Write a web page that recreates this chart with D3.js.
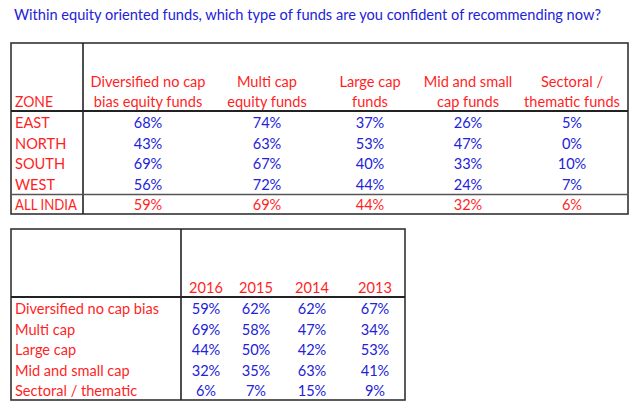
<!DOCTYPE html>
<html><head><meta charset="utf-8">
<script src="https://cdn.jsdelivr.net/npm/d3@7"></script>
<style>html,body{margin:0;padding:0;background:#fff;} svg{display:block;}</style>
</head><body>
<svg id="chart" width="640" height="410"></svg>
<script>
const title = "Within equity oriented funds, which type of funds are you confident of recommending now?";
const zoneHeader = "ZONE";
const zones = ["EAST", "NORTH", "SOUTH", "WEST", "ALL INDIA"];
const fundTypes = [
  ["Diversified no cap", "bias equity funds"],
  ["Multi cap", "equity funds"],
  ["Large cap", "funds"],
  ["Mid and small", "cap funds"],
  ["Sectoral /", "thematic funds"]
];
const diversifiedByZone = [68, 43, 69, 56, 59];
const multiCapByZone = [74, 63, 67, 72, 69];
const largeCapByZone = [37, 53, 40, 44, 44];
const midSmallByZone = [26, 47, 33, 24, 32];
const sectoralByZone = [5, 0, 10, 7, 6];

const categories = ["Diversified no cap bias", "Multi cap", "Large cap", "Mid and small cap", "Sectoral / thematic"];
const years = ["2016", "2015", "2014", "2013"];
const values2016 = [59, 69, 44, 32, 6];
const values2015 = [62, 58, 50, 35, 7];
const values2014 = [62, 47, 42, 63, 15];
const values2013 = [67, 34, 53, 41, 9];

const RED = "#ff1f1f", BLUE = "#2222d8", LINE = "#222";
const FONT = "Lato, 'Open Sans', sans-serif";
const FS = 14.6;
const LABEL_X = 15;

const svg = d3.select("#chart");
const fmt = v => v + "%";

function fit(sel, maxW) {
  sel.each(function () {
    const w = this.getComputedTextLength();
    if (w > maxW) d3.select(this).attr("textLength", maxW).attr("lengthAdjust", "spacingAndGlyphs");
  });
}

const tt = svg.append("text").attr("x", 14).attr("y", 15).attr("dy", "0.35em")
  .attr("fill", BLUE).attr("font-family", FONT).attr("font-size", FS).text(title);
fit(tt, 588);

// ---------- Table 1 ----------
const t1 = {x0: 11, x1: 628, y0: 43, yHead: 111, ySep: 194.5, y1: 214, xDiv: 83};
const zoneSeries = [diversifiedByZone, multiCapByZone, largeCapByZone, midSmallByZone, sectoralByZone];
const colCenters1 = d3.scaleOrdinal().domain(d3.range(fundTypes.length)).range([148, 267, 370, 468, 572]);
const rowY1 = d3.scalePoint().domain(zones).range([123, 205]);
const headY1 = d3.scalePoint().domain([0, 1]).range([82, 102]);

const g1 = svg.append("g").attr("font-family", FONT).attr("font-size", FS);
g1.append("rect").attr("x", t1.x0).attr("y", t1.y0).attr("width", t1.x1 - t1.x0).attr("height", t1.y1 - t1.y0)
  .attr("fill", "none").attr("stroke", "#333").attr("stroke-width", 1.6);
g1.append("line").attr("x1", t1.xDiv).attr("x2", t1.xDiv).attr("y1", t1.y0).attr("y2", t1.y1)
  .attr("stroke", LINE).attr("stroke-width", 1.6);
g1.append("line").attr("x1", t1.x0).attr("x2", t1.x1).attr("y1", t1.yHead).attr("y2", t1.yHead)
  .attr("stroke", LINE).attr("stroke-width", 1.8);
g1.append("line").attr("x1", t1.x0).attr("x2", t1.x1).attr("y1", t1.ySep).attr("y2", t1.ySep)
  .attr("stroke", "#555").attr("stroke-width", 1.4);

const zh = g1.append("text").attr("x", LABEL_X).attr("y", headY1(1)).attr("dy", "0.35em").attr("fill", RED).text(zoneHeader);
fit(zh, 38);
fundTypes.forEach((lines, i) => {
  g1.selectAll(null).data(lines).enter().append("text")
    .attr("x", colCenters1(i)).attr("y", (d, j) => headY1(j)).attr("dy", "0.35em")
    .attr("text-anchor", "middle").attr("fill", RED).text(d => d);
});
const zl = g1.selectAll(".zone").data(zones).enter().append("text")
  .attr("x", LABEL_X).attr("y", d => rowY1(d)).attr("dy", "0.35em").attr("fill", RED).text(d => d);
fit(zl, 62);
zoneSeries.forEach((series, i) => {
  g1.selectAll(null).data(series).enter().append("text")
    .attr("x", colCenters1(i)).attr("y", (d, j) => rowY1(zones[j])).attr("dy", "0.35em")
    .attr("text-anchor", "middle").attr("fill", (d, j) => j === zones.length - 1 ? RED : BLUE).text(fmt);
});

// ---------- Table 2 ----------
const t2 = {x0: 11, x1: 405, y0: 229, yHead: 297, y1: 400, xDiv: 181};
const yearSeries = [values2016, values2015, values2014, values2013];
const colCenters2 = d3.scaleOrdinal().domain(years).range([206, 256, 312, 375]);
const rowY2 = d3.scalePoint().domain(categories).range([309, 391]);

const g2 = svg.append("g").attr("font-family", FONT).attr("font-size", FS);
g2.append("rect").attr("x", t2.x0).attr("y", t2.y0).attr("width", t2.x1 - t2.x0).attr("height", t2.y1 - t2.y0)
  .attr("fill", "none").attr("stroke", "#333").attr("stroke-width", 1.6);
g2.append("line").attr("x1", t2.xDiv).attr("x2", t2.xDiv).attr("y1", t2.y0).attr("y2", t2.y1)
  .attr("stroke", LINE).attr("stroke-width", 1.6);
g2.append("line").attr("x1", t2.x0).attr("x2", t2.x1).attr("y1", t2.yHead).attr("y2", t2.yHead)
  .attr("stroke", LINE).attr("stroke-width", 1.8);

g2.selectAll(".yr").data(years).enter().append("text")
  .attr("x", d => colCenters2(d)).attr("y", 288).attr("dy", "0.35em")
  .attr("text-anchor", "middle").attr("fill", RED).text(d => d);
const cl = g2.selectAll(".cat").data(categories).enter().append("text")
  .attr("x", LABEL_X).attr("y", d => rowY2(d)).attr("dy", "0.35em").attr("fill", RED).text(d => d);
fit(cl, 160);
yearSeries.forEach((series, i) => {
  g2.selectAll(null).data(series).enter().append("text")
    .attr("x", colCenters2(years[i])).attr("y", (d, j) => rowY2(categories[j])).attr("dy", "0.35em")
    .attr("text-anchor", "middle").attr("fill", BLUE).text(fmt);
});
</script>
</body></html>
